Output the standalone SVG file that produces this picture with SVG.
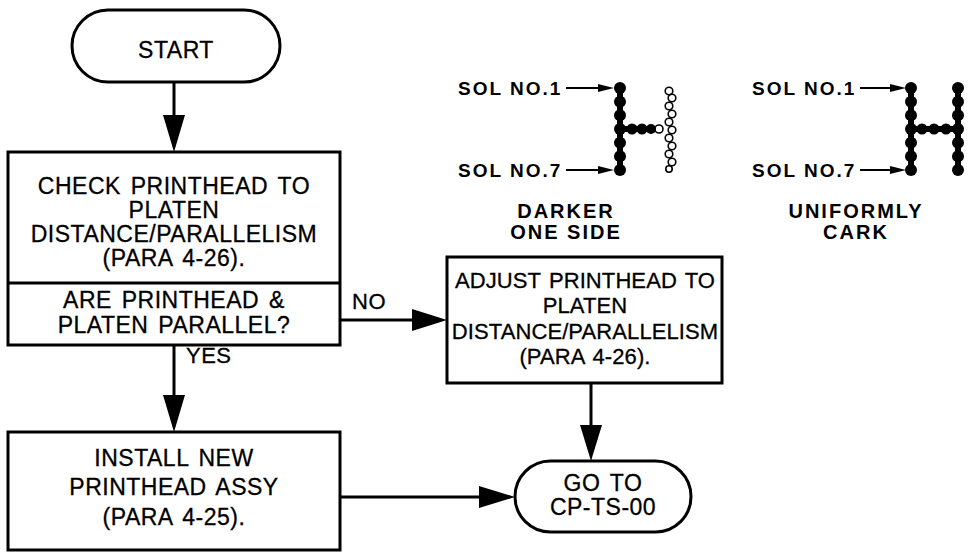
<svg xmlns="http://www.w3.org/2000/svg" width="974" height="555" viewBox="0 0 974 555">
  <style>
    .shape { fill: #fff; stroke: #000; stroke-width: 3; }
    .wire { fill: none; stroke: #000; stroke-width: 3; }
    .head { fill: #000; stroke: none; }
    .t { font-family: "Liberation Sans", Arial, sans-serif; font-size: 23px; fill: #000; stroke: #000; stroke-width: 0.3; text-anchor: middle; letter-spacing: 0.5px; word-spacing: 3px; }
    .ts { font-size: 22px; letter-spacing: 0.1px; word-spacing: 2px; }
    .lbl { font-family: "Liberation Sans", Arial, sans-serif; font-size: 22px; fill: #000; stroke: #000; stroke-width: 0.3; letter-spacing: 0.5px; }
    .sol { font-family: "Liberation Sans", Arial, sans-serif; font-size: 19px; font-weight: bold; fill: #000; letter-spacing: 2px; }
    .cap { font-family: "Liberation Sans", Arial, sans-serif; font-size: 20px; font-weight: bold; fill: #000; text-anchor: middle; letter-spacing: 2px; }
    .dot { fill: #000; }
    .ring { fill: none; stroke: #000; stroke-width: 1.6; }
    .bar { stroke: #000; stroke-width: 6; fill: none; }
    .ptr { stroke: #000; stroke-width: 2; fill: none; }
  </style>

  <!-- flowchart nodes -->
  <g id="start">
    <rect class="shape" x="72" y="10" width="208" height="72" rx="36" ry="36"/>
    <text class="t" x="176" y="58">START</text>
  </g>

  <g id="check">
    <rect class="shape" x="8" y="152" width="332" height="193"/>
    <line class="wire" x1="8" y1="283" x2="340" y2="283"/>
    <text class="t" x="174" y="194">CHECK PRINTHEAD TO</text>
    <text class="t" x="174" y="218">PLATEN</text>
    <text class="t" x="174" y="242">DISTANCE/PARALLELISM</text>
    <text class="t" x="174" y="266">(PARA 4-26).</text>
    <text class="t" x="174" y="308">ARE PRINTHEAD &amp;</text>
    <text class="t" x="174" y="333">PLATEN PARALLEL?</text>
  </g>

  <g id="adjust">
    <rect class="shape" x="447" y="257" width="275" height="126"/>
    <text class="t ts" x="585" y="288">ADJUST PRINTHEAD TO</text>
    <text class="t ts" x="585" y="313">PLATEN</text>
    <text class="t ts" x="585" y="339">DISTANCE/PARALLELISM</text>
    <text class="t ts" x="585" y="364">(PARA 4-26).</text>
  </g>

  <g id="install">
    <rect class="shape" x="8" y="432" width="332" height="118"/>
    <text class="t" x="174" y="466">INSTALL NEW</text>
    <text class="t" x="174" y="495">PRINTHEAD ASSY</text>
    <text class="t" x="174" y="525">(PARA 4-25).</text>
  </g>

  <g id="goto">
    <rect class="shape" x="515" y="461" width="176" height="71" rx="35.5" ry="35.5"/>
    <text class="t" x="603" y="491">GO TO</text>
    <text class="t" x="603" y="515">CP-TS-00</text>
  </g>

  <!-- connectors -->
  <g id="connectors">
    <line class="wire" x1="174" y1="82" x2="174" y2="118"/>
    <polygon class="head" points="163,115 185,115 174,152"/>

    <line class="wire" x1="340" y1="320" x2="415" y2="320"/>
    <polygon class="head" points="412,309 412,331 447,320"/>
    <text class="lbl" x="352" y="309">NO</text>

    <line class="wire" x1="174" y1="345" x2="174" y2="398"/>
    <polygon class="head" points="163,395 185,395 174,432"/>
    <text class="lbl" x="186" y="363">YES</text>

    <line class="wire" x1="340" y1="497" x2="482" y2="497"/>
    <polygon class="head" points="479,486 479,508 515,497"/>

    <line class="wire" x1="591" y1="383" x2="591" y2="428"/>
    <polygon class="head" points="580,425 602,425 591,461"/>
  </g>

  <!-- dot-matrix sample: darker on one side -->
  <g id="sample-darker">
    <text class="sol" x="458" y="95">SOL NO.1</text>
    <line class="ptr" x1="566" y1="88" x2="600" y2="88"/>
    <polygon class="head" points="598,84 598,92 614,88"/>
    <text class="sol" x="458" y="177">SOL NO.7</text>
    <line class="ptr" x1="566" y1="170" x2="600" y2="170"/>
    <polygon class="head" points="598,166 598,174 614,170"/>

    <line class="bar" x1="620" y1="88" x2="620" y2="170"/>
    <line class="bar" x1="620" y1="129" x2="655" y2="129"/>
    <g class="dot">
      <circle cx="620" cy="88" r="6"/>
      <circle cx="620" cy="101.7" r="6"/>
      <circle cx="620" cy="115.3" r="6"/>
      <circle cx="620" cy="129" r="6"/>
      <circle cx="620" cy="142.7" r="6"/>
      <circle cx="620" cy="156.3" r="6"/>
      <circle cx="620" cy="170" r="6"/>
      <circle cx="632" cy="129" r="5.5"/>
      <circle cx="642" cy="129" r="5.5"/>
      <circle cx="651" cy="129" r="5"/>
    </g>
    <g class="ring">
      <circle cx="659" cy="129" r="4"/>
      <circle cx="669" cy="91" r="3.8"/>
      <circle cx="672" cy="98" r="3.8"/>
      <circle cx="669" cy="106" r="3.8"/>
      <circle cx="672" cy="114" r="3.8"/>
      <circle cx="669" cy="122" r="3.8"/>
      <circle cx="672" cy="130" r="3.8"/>
      <circle cx="669" cy="138" r="3.8"/>
      <circle cx="672" cy="146" r="3.8"/>
      <circle cx="669" cy="154" r="3.8"/>
      <circle cx="672" cy="162" r="3.8"/>
      <circle cx="669" cy="169" r="3.2"/>
    </g>
    <text class="cap" x="566" y="218">DARKER</text>
    <text class="cap" x="566" y="239">ONE SIDE</text>
  </g>

  <!-- dot-matrix sample: uniformly dark -->
  <g id="sample-uniform">
    <text class="sol" x="752" y="95">SOL NO.1</text>
    <line class="ptr" x1="860" y1="88" x2="892" y2="88"/>
    <polygon class="head" points="890,84 890,92 906,88"/>
    <text class="sol" x="752" y="177">SOL NO.7</text>
    <line class="ptr" x1="860" y1="170" x2="892" y2="170"/>
    <polygon class="head" points="890,166 890,174 906,170"/>

    <line class="bar" x1="911" y1="88" x2="911" y2="170"/>
    <line class="bar" x1="958" y1="88" x2="958" y2="170"/>
    <line class="bar" x1="911" y1="129" x2="958" y2="129"/>
    <g class="dot">
      <circle cx="911" cy="88" r="6"/>
      <circle cx="911" cy="101.7" r="6"/>
      <circle cx="911" cy="115.3" r="6"/>
      <circle cx="911" cy="129" r="6"/>
      <circle cx="911" cy="142.7" r="6"/>
      <circle cx="911" cy="156.3" r="6"/>
      <circle cx="911" cy="170" r="6"/>
      <circle cx="958" cy="88" r="6"/>
      <circle cx="958" cy="101.7" r="6"/>
      <circle cx="958" cy="115.3" r="6"/>
      <circle cx="958" cy="129" r="6"/>
      <circle cx="958" cy="142.7" r="6"/>
      <circle cx="958" cy="156.3" r="6"/>
      <circle cx="958" cy="170" r="6"/>
      <circle cx="922" cy="129" r="5.5"/>
      <circle cx="934" cy="129" r="5.5"/>
      <circle cx="946" cy="129" r="5.5"/>
    </g>
    <text class="cap" x="856" y="218">UNIFORMLY</text>
    <text class="cap" x="856" y="239">CARK</text>
  </g>
</svg>
